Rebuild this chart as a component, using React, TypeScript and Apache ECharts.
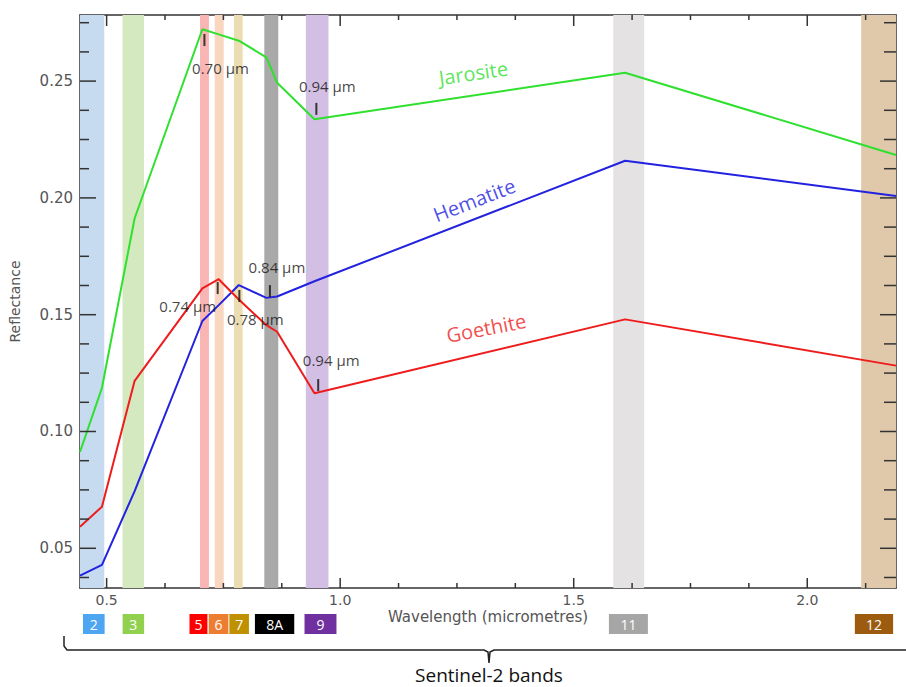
import React, { useEffect, useRef } from "react";
import * as echarts from "echarts";

// Sentinel-2 sample wavelengths (micrometres)
const wavelengths = [0.443, 0.49, 0.56, 0.705, 0.74, 0.783, 0.842, 0.865, 0.945, 1.61, 2.19];
const jarosite = [0.0912, 0.1187, 0.1913, 0.2722, 0.27, 0.2673, 0.2602, 0.2493, 0.2337, 0.2536, 0.2184];
const hematite = [0.0383, 0.0429, 0.0745, 0.1473, 0.1541, 0.1627, 0.1572, 0.1578, 0.1643, 0.2159, 0.2008];
const goethite = [0.0592, 0.0678, 0.1217, 0.1613, 0.1652, 0.1565, 0.1455, 0.1427, 0.1164, 0.148, 0.1282];

// shaded band ranges
const bandStart = [0.443, 0.534, 0.7, 0.7314, 0.7727, 0.8376, 0.9265, 1.5846, 2.1154];
const bandEnd = [0.495, 0.58, 0.719, 0.7506, 0.7912, 0.8675, 0.975, 1.6509, 2.19];
const bandColors = ["#c6dbef", "#d5e9c1", "#f9b4b4", "#f9d6bf", "#ebdcb1", "#a9a9a9", "#d3bfe3", "#e4e2e3", "#e0c9aa"];

// band tags below the axis
const tagNames = ["2", "3", "5", "6", "7", "8A", "9", "11", "12"];
const tagStart = [0.4494, 0.5342, 0.6774, 0.7186, 0.7628, 0.8175, 0.9237, 1.5754, 2.1019];
const tagEnd = [0.4957, 0.5803, 0.7158, 0.7607, 0.8047, 0.9017, 0.9921, 1.6588, 2.1838];
const tagColors = ["#4ea5f2", "#92d050", "#ff0000", "#ed7d31", "#bf9000", "#000000", "#7030a0", "#a6a6a6", "#9c5b0f"];

// absorption annotations
const annText = ["0.70 µm", "0.94 µm", "0.84 µm", "0.74 µm", "0.78 µm", "0.94 µm"];
const annWl = [0.7094, 0.949, 0.8496, 0.7378, 0.7842, 0.953];
const annRefl = [0.2676, 0.2381, 0.1601, 0.1614, 0.158, 0.1199];
const annOffsets = [[16, 28], [11, -23], [7, -24], [-30, 18], [16, 23], [13, -25]];

// mineral labels
const mineralNames = ["Jarosite", "Hematite", "Goethite"];
const mineralWl = [1.285, 1.287, 1.3126];
const mineralRefl = [0.2535, 0.1991, 0.1443];
const mineralRotate = [8, 21, 11];
const mineralColors = ["#2fe02f", "#2222e0", "#ee1c1c"];

// axis ticks
const xMin = 0.443;
const xMax = 2.19;
const yMin = 0.033;
const yMax = 0.2783;
const xMajor = [0.5, 1.0, 1.5, 2.0];
const xMinor = [0.625, 0.75, 0.875, 1.125, 1.25, 1.375, 1.625, 1.75, 1.875, 2.125];
const yMajor = [0.05, 0.1, 0.15, 0.2, 0.25];
const yMinor = [0.0375, 0.0625, 0.075, 0.0875, 0.1125, 0.125, 0.1375, 0.1625, 0.175, 0.1875, 0.2125, 0.225, 0.2375, 0.2625, 0.275];

const axisColor = "#333";
const labelFont = { color: "#555", fontFamily: "DejaVu Sans", fontSize: 14 };

function xAxisDef(position: string, withLabels: boolean) {
  return {
    type: "value",
    position,
    min: xMin,
    max: xMax,
    name: withLabels ? "Wavelength (micrometres)" : "",
    nameLocation: "middle",
    nameGap: 21,
    nameMoveOverlap: false,
    nameTextStyle: { ...labelFont, fontSize: 15 },
    axisLine: { show: true, onZero: false, lineStyle: { color: axisColor, width: 1.5 } },
    axisTick: { show: false },
    axisLabel: {
      show: withLabels,
      customValues: xMajor,
      margin: 5,
      ...labelFont,
      formatter: (v: number) => v.toFixed(1),
    },
    splitLine: { show: false },
  };
}

function yAxisDef(position: string, withLabels: boolean) {
  return {
    type: "value",
    position,
    min: yMin,
    max: yMax,
    name: withLabels ? "Reflectance" : "",
    nameLocation: "middle",
    nameGap: 58,
    nameMoveOverlap: false,
    nameRotate: 90,
    nameTextStyle: { ...labelFont, fontSize: 14 },
    axisLine: { show: true, onZero: false, lineStyle: { color: axisColor, width: 1.5 } },
    axisTick: { show: false },
    axisLabel: {
      show: withLabels,
      customValues: yMajor,
      margin: 7,
      ...labelFont,
      fontSize: 15,
      formatter: (v: number) => v.toFixed(2),
    },
    splitLine: { show: false },
  };
}

// tick lengths: [bottom/left, top/right]
const xMajorLen = [10, 11];
const xMinorLen = [5, 5];
const yMajorLen = [16, 16];
const yMinorLen = [9, 12];

export default function App() {
  const ref = useRef<HTMLDivElement>(null);

  useEffect(() => {
    if (!ref.current) return;
    const chart = echarts.init(ref.current, undefined, { renderer: "svg" });

    const lineSeries = (name: string, values: number[], color: string) => ({
      name,
      type: "line",
      xAxisIndex: 0,
      yAxisIndex: 0,
      data: wavelengths.map((w, i) => [w, values[i]]),
      symbol: "none",
      lineStyle: { color, width: 2 },
      z: 3,
      silent: true,
    });

    const bracketAndTitle = [
      {
        type: "polyline",
        silent: true,
        shape: {
          points: [
            [64, 636], [64, 646], [67, 650], [484, 650], [488, 652], [489, 663],
            [490, 652], [494, 650], [906, 650],
          ],
        },
        style: { stroke: "#222", lineWidth: 1.5, fill: "none" },
      },
      {
        type: "text",
        silent: true,
        style: {
          text: "Sentinel-2 bands",
          x: 489,
          y: 675,
          align: "center",
          verticalAlign: "middle",
          fill: "#111",
          fontSize: 19,
          fontFamily: "Open Sans",
        },
      },
    ];

    const option: any = {
      animation: false,
      backgroundColor: "#fff",
      grid: { left: 78, top: 15, right: 10, bottom: 99, containLabel: false },
      xAxis: [xAxisDef("bottom", true), xAxisDef("top", false)],
      yAxis: [yAxisDef("left", true), yAxisDef("right", false)],
      series: [
        {
          name: "bands",
          type: "line",
          xAxisIndex: 0,
          yAxisIndex: 0,
          data: [],
          z: 1,
          silent: true,
          markArea: {
            silent: true,
            data: bandStart.map((s, i) => [
              { xAxis: s, itemStyle: { color: bandColors[i], opacity: 1 } },
              { xAxis: bandEnd[i] },
            ]),
          },
        },
        lineSeries("Jarosite", jarosite, "#2fe02f"),
        lineSeries("Hematite", hematite, "#2222e0"),
        lineSeries("Goethite", goethite, "#ee1c1c"),
        {
          name: "annotations",
          type: "scatter",
          xAxisIndex: 0,
          yAxisIndex: 0,
          symbol: "rect",
          symbolSize: [2, 12],
          itemStyle: { color: "#111" },
          z: 5,
          silent: true,
          data: annWl.map((w, i) => ({
            value: [w, annRefl[i]],
            label: {
              show: true,
              position: "inside",
              offset: annOffsets[i],
              formatter: annText[i],
              color: "#111",
              fontFamily: "Open Sans",
              fontSize: 15,
            },
          })),
        },
        {
          name: "mineralLabels",
          type: "scatter",
          xAxisIndex: 0,
          yAxisIndex: 0,
          symbolSize: 0,
          z: 5,
          silent: true,
          data: mineralWl.map((w, i) => ({
            value: [w, mineralRefl[i]],
            label: {
              show: true,
              position: "inside",
              formatter: mineralNames[i],
              rotate: mineralRotate[i],
              color: mineralColors[i],
              fontFamily: "Open Sans",
              fontSize: 20,
            },
          })),
        },
        {
          name: "bandTags",
          type: "custom",
          xAxisIndex: 0,
          yAxisIndex: 0,
          clip: false,
          silent: true,
          z: 6,
          encode: { x: [0, 1], y: 2 },
          data: tagStart.map((s, i) => [s, tagEnd[i], yMin]),
          renderItem: (params: any, api: any) => {
            const i = params.dataIndex;
            const p0 = api.coord([api.value(0), api.value(2)]);
            const p1 = api.coord([api.value(1), api.value(2)]);
            const top = p0[1] + 26;
            return {
              type: "group",
              children: [
                {
                  type: "rect",
                  shape: { x: p0[0], y: top, width: p1[0] - p0[0], height: 20 },
                  style: { fill: tagColors[i] },
                },
                {
                  type: "text",
                  style: {
                    text: tagNames[i],
                    x: (p0[0] + p1[0]) / 2,
                    y: top + 10,
                    align: "center",
                    verticalAlign: "middle",
                    fill: "#fff",
                    fontSize: 14,
                    fontFamily: "Open Sans",
                  },
                },
              ],
            };
          },
        },
      ],
      graphic: bracketAndTitle,
    };

    chart.setOption(option);

    // frame ticks (inward), placed through the axes' own scales
    const px = (v: number) => chart.convertToPixel({ xAxisIndex: 0 }, v) as number;
    const py = (v: number) => chart.convertToPixel({ yAxisIndex: 0 }, v) as number;
    const left = px(xMin);
    const right = px(xMax);
    const top = py(yMax);
    const bottom = py(yMin);
    const st = { stroke: axisColor, lineWidth: 1.5 };
    const ticks: any[] = [];
    const addX = (vals: number[], lens: number[]) => {
      vals.forEach((v) => {
        const x = px(v);
        ticks.push({ type: "line", silent: true, z: 100, shape: { x1: x, y1: bottom, x2: x, y2: bottom - lens[0] }, style: { ...st } });
        ticks.push({ type: "line", silent: true, z: 100, shape: { x1: x, y1: top, x2: x, y2: top + lens[1] }, style: { ...st } });
      });
    };
    const addY = (vals: number[], lens: number[]) => {
      vals.forEach((v) => {
        const y = py(v);
        ticks.push({ type: "line", silent: true, z: 100, shape: { x1: left, y1: y, x2: left + lens[0], y2: y }, style: { ...st } });
        ticks.push({ type: "line", silent: true, z: 100, shape: { x1: right, y1: y, x2: right - lens[1], y2: y }, style: { ...st } });
      });
    };
    addX(xMajor, xMajorLen);
    addX(xMinor, xMinorLen);
    addY(yMajor, yMajorLen);
    addY(yMinor, yMinorLen);

    chart.setOption({ graphic: [...bracketAndTitle, ...ticks] });

    return () => chart.dispose();
  }, []);

  return <div ref={ref} style={{ width: 906, height: 687, position: "absolute", left: 0, top: 0 }} />;
}
